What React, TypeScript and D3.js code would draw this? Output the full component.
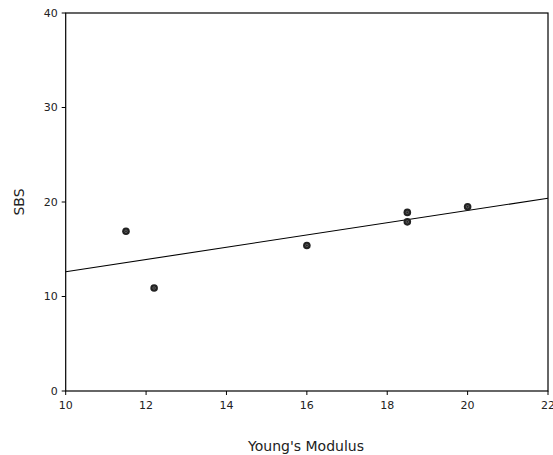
import React from "react";
import * as d3 from "d3";

const xTicks = [10, 12, 14, 16, 18, 20, 22];
const yTicks = [0, 10, 20, 30, 40];
const youngsModulus = [11.5, 12.2, 16.0, 18.5, 18.5, 20.0];
const sbs = [16.9, 10.9, 15.4, 18.9, 17.9, 19.5];

const W = 553;
const H = 455;
const left = 65.7;
const right = 548;
const top = 13;
const bottom = 391;

export default function App() {
  const x = d3.scaleLinear().domain([10, 22]).range([left, right]);
  const y = d3.scaleLinear().domain([0, 40]).range([bottom, top]);

  const mx = d3.mean(youngsModulus)!;
  const my = d3.mean(sbs)!;
  const sxy = d3.sum(youngsModulus.map((v, i) => (v - mx) * (sbs[i] - my)));
  const sxx = d3.sum(youngsModulus.map((v) => (v - mx) ** 2));
  const slope = sxy / sxx;
  const intercept = my - slope * mx;
  const fit = (v: number) => intercept + slope * v;
  const line = d3
    .line<number>()
    .x((d) => x(d))
    .y((d) => y(fit(d)));

  const font = "'DejaVu Sans', Arial, sans-serif";

  return (
    <svg
      width={W}
      height={H}
      style={{ position: "absolute", left: 0, top: 0, background: "#fff" }}
      fontFamily={font}
    >
      <rect x={left} y={top} width={right - left} height={bottom - top} fill="none" stroke="#000" strokeWidth={1.2} />
      {yTicks.map((t) => (
        <g key={"y" + t}>
          <line x1={left - 4} x2={left} y1={y(t)} y2={y(t)} stroke="#000" />
          <text x={left - 8} y={y(t)} dy="0.35em" textAnchor="end" fontSize={11} fill="#222">
            {t}
          </text>
        </g>
      ))}
      {xTicks.map((t) => (
        <g key={"x" + t}>
          <line x1={x(t)} x2={x(t)} y1={bottom} y2={bottom + 4} stroke="#000" />
          <text x={x(t)} y={bottom + 18} textAnchor="middle" fontSize={11} fill="#222">
            {t}
          </text>
        </g>
      ))}
      <path d={line([10, 22]) || ""} fill="none" stroke="#000" strokeWidth={1.1} />
      {youngsModulus.map((v, i) => (
        <g key={"p" + i}>
          <circle cx={x(v)} cy={y(sbs[i])} r={3.8} fill="#222" />
          <circle cx={x(v)} cy={y(sbs[i])} r={1.3} fill="none" stroke="#666" strokeWidth={0.8} />
        </g>
      ))}
      <text x={306} y={451} textAnchor="middle" fontSize={14} fill="#222">
        Young's Modulus
      </text>
      <text
        transform={`translate(${24},${(top + bottom) / 2}) rotate(-90)`}
        textAnchor="middle"
        fontSize={14}
        fill="#222"
      >
        SBS
      </text>
    </svg>
  );
}
